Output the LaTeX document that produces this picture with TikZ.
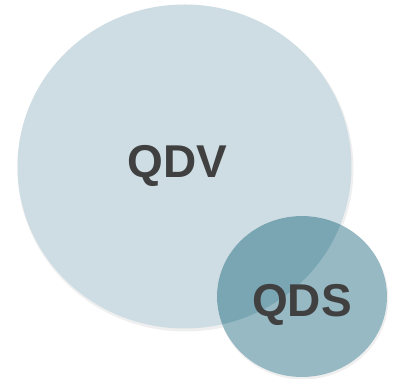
\documentclass[tikz,border=0pt]{standalone}
\usepackage{fontspec}
\setmainfont{Liberation Sans}
\definecolor{bigfill}{HTML}{CDDDE3}
\definecolor{smallbase}{HTML}{0D5E76}
\definecolor{txt}{HTML}{404040}
\tikzset{
  lbl/.style={anchor=base, inner sep=0pt, text=txt, font=\fontsize{46}{46}\selectfont\bfseries},
  bigc/.style={fill=bigfill, draw=none},
  smallc/.style={fill=smallbase, fill opacity=0.43, draw=none}
}
\begin{document}
\begin{tikzpicture}[x=1pt,y=1pt]
  \useasboundingbox (0,0) rectangle (393,379);
  % soft shadow
  \fill[black!12, opacity=0.5] (185.5,210.5) ellipse [x radius=168, y radius=163];
  \fill[bigc] (184.5,212.5) ellipse [x radius=167, y radius=162];
  \fill[black!12, opacity=0.5] (303,80.5) ellipse [x radius=85.5, y radius=81];
  \fill[white] (302,82.5) ellipse [x radius=85, y radius=80.5];
  \begin{scope}
    \clip (184.5,212.5) ellipse [x radius=167, y radius=162];
    \fill[bigfill] (302,82.5) ellipse [x radius=85, y radius=80.5];
  \end{scope}
  \fill[smallc] (302,82.5) ellipse [x radius=85, y radius=80.5];
  \node[lbl] (qdv) at (177.5,201) {QDV};
  \node[lbl] (qds) at (302,62) {QDS};
\end{tikzpicture}
\end{document}
